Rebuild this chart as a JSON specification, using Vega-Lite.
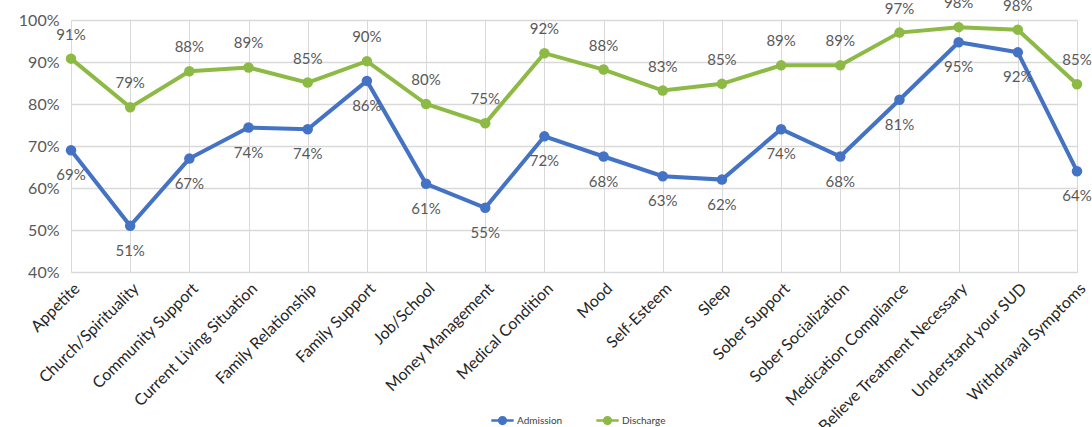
{
  "$schema": "https://vega.github.io/schema/vega-lite/v6.json",
  "autosize": "none",
  "width": 1006,
  "height": 252,
  "padding": {"left": 71, "top": 20, "right": 15, "bottom": 155},
  "background": "white",
  "config": {
    "font": "Lato",
    "view": {"stroke": null}
  },
  "data": {
    "values": [
      {"category": "Appetite", "series": "Admission", "value": 0.69},
      {"category": "Church/Spirituality", "series": "Admission", "value": 0.51},
      {"category": "Community Support", "series": "Admission", "value": 0.67},
      {"category": "Current Living Situation", "series": "Admission", "value": 0.744},
      {"category": "Family Relationship", "series": "Admission", "value": 0.74},
      {"category": "Family Support", "series": "Admission", "value": 0.855},
      {"category": "Job/School", "series": "Admission", "value": 0.61},
      {"category": "Money Management", "series": "Admission", "value": 0.553},
      {"category": "Medical Condition", "series": "Admission", "value": 0.723},
      {"category": "Mood", "series": "Admission", "value": 0.675},
      {"category": "Self-Esteem", "series": "Admission", "value": 0.628},
      {"category": "Sleep", "series": "Admission", "value": 0.62},
      {"category": "Sober Support", "series": "Admission", "value": 0.74},
      {"category": "Sober Socialization", "series": "Admission", "value": 0.675},
      {"category": "Medication Compliance", "series": "Admission", "value": 0.81},
      {"category": "Believe Treatment Necessary", "series": "Admission", "value": 0.947},
      {"category": "Understand your SUD", "series": "Admission", "value": 0.923},
      {"category": "Withdrawal Symptoms", "series": "Admission", "value": 0.64},
      {"category": "Appetite", "series": "Discharge", "value": 0.908},
      {"category": "Church/Spirituality", "series": "Discharge", "value": 0.792},
      {"category": "Community Support", "series": "Discharge", "value": 0.878},
      {"category": "Current Living Situation", "series": "Discharge", "value": 0.887},
      {"category": "Family Relationship", "series": "Discharge", "value": 0.851},
      {"category": "Family Support", "series": "Discharge", "value": 0.902},
      {"category": "Job/School", "series": "Discharge", "value": 0.8},
      {"category": "Money Management", "series": "Discharge", "value": 0.754},
      {"category": "Medical Condition", "series": "Discharge", "value": 0.921},
      {"category": "Mood", "series": "Discharge", "value": 0.882},
      {"category": "Self-Esteem", "series": "Discharge", "value": 0.832},
      {"category": "Sleep", "series": "Discharge", "value": 0.848},
      {"category": "Sober Support", "series": "Discharge", "value": 0.892},
      {"category": "Sober Socialization", "series": "Discharge", "value": 0.892},
      {"category": "Medication Compliance", "series": "Discharge", "value": 0.97},
      {"category": "Believe Treatment Necessary", "series": "Discharge", "value": 0.983},
      {"category": "Understand your SUD", "series": "Discharge", "value": 0.977},
      {"category": "Withdrawal Symptoms", "series": "Discharge", "value": 0.847}
    ]
  },
  "encoding": {
    "x": {
      "field": "category",
      "type": "nominal",
      "sort": null,
      "scale": {"type": "point", "padding": 0},
      "axis": {
        "title": null,
        "labelAngle": -45,
        "labelFontSize": 16,
        "labelColor": "#262626",
        "labelPadding": 8,
        "ticks": false,
        "domainColor": "#d9d9d9",
        "gridColor": "#d9d9d9",
        "grid": true,
        "labelLimit": 400,
        "labelOverlap": false
      }
    },
    "y": {
      "field": "value",
      "type": "quantitative",
      "scale": {"domain": [0.4, 1.0], "nice": false, "zero": false},
      "axis": {
        "title": null,
        "format": ".0%",
        "values": [0.4, 0.5, 0.6, 0.7, 0.8, 0.9, 1.0],
        "labelOverlap": false,
        "labelFontSize": 16,
        "labelColor": "#595959",
        "labelPadding": 12,
        "ticks": false,
        "domain": false,
        "gridColor": "#d9d9d9",
        "gridWidth": 1.3
      }
    },
    "color": {
      "field": "series",
      "type": "nominal",
      "scale": {"domain": ["Admission", "Discharge"], "range": ["#4472C4", "#8DBA45"]},
      "legend": {
        "title": null,
        "orient": "none",
        "direction": "horizontal",
        "legendX": 419,
        "legendY": 388,
        "labelFontSize": 10,
        "labelColor": "#404040",
        "columnPadding": 28,
        "labelOffset": 2,
        "symbolType": "M-1,0H1M-0.3,0a0.3,0.3 0 1,0 0.6,0a0.3,0.3 0 1,0 -0.6,0",
        "symbolSize": 500,
        "symbolStrokeWidth": 2.5
      }
    }
  },
  "layer": [
    {"mark": {"type": "line", "strokeWidth": 4}},
    {"mark": {"type": "point", "filled": true, "size": 110, "opacity": 1}},
    {
      "transform": [{"filter": "datum.series === 'Discharge'"}],
      "mark": {"type": "text", "dy": -24, "fontSize": 15, "color": "#595959"},
      "encoding": {
        "text": {"field": "value", "type": "quantitative", "format": ".0%"},
        "color": {"value": "#595959"}
      }
    },
    {
      "transform": [{"filter": "datum.series === 'Admission'"}],
      "mark": {"type": "text", "dy": 25, "fontSize": 15, "color": "#595959"},
      "encoding": {
        "text": {"field": "value", "type": "quantitative", "format": ".0%"},
        "color": {"value": "#595959"}
      }
    }
  ]
}
